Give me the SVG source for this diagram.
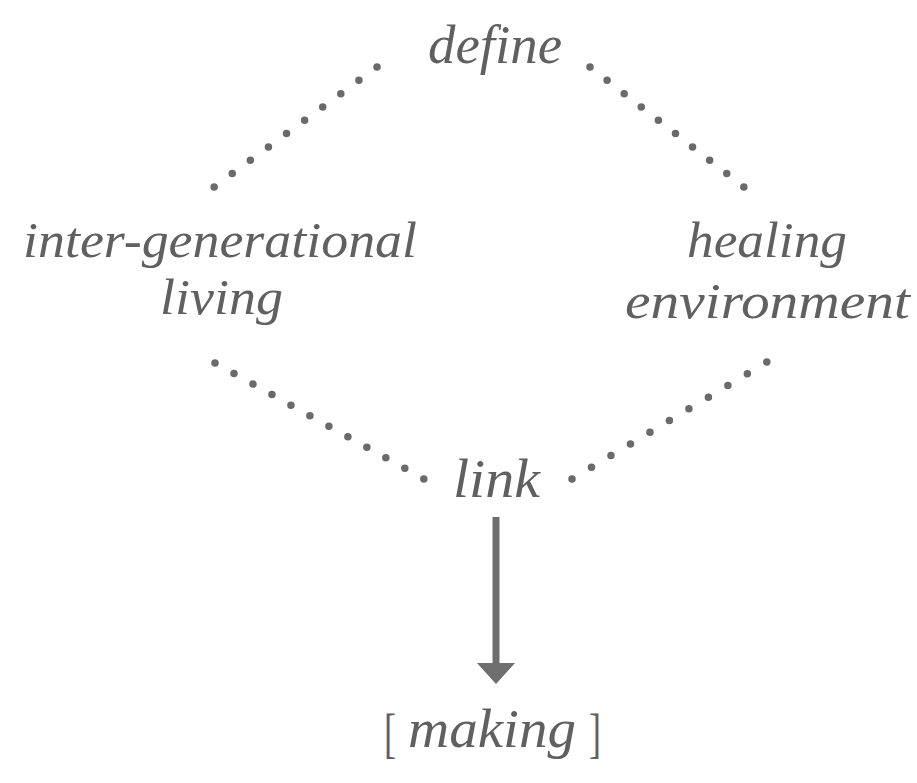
<svg xmlns="http://www.w3.org/2000/svg" width="917" height="783" viewBox="0 0 917 783">
<style>
.t{font-family:"Liberation Serif","DejaVu Serif",serif;font-style:italic;font-size:54px;fill:#606060}
.s{font-size:50px}
.u{font-family:"Liberation Serif","DejaVu Serif",serif;font-style:normal;font-size:54px;fill:#606060}
.dot{fill:none;stroke:#6a6a6a;stroke-width:7.5;stroke-linecap:round}
</style>
<rect width="917" height="783" fill="#ffffff"/>
<g id="connectors">
<path class="dot" d="M377,67 L214,187" stroke-dasharray="0 22.47"/>
<path class="dot" d="M590,67 L744,187" stroke-dasharray="0 21.67"/>
<path class="dot" d="M215,363 L424,479" stroke-dasharray="0 21.71"/>
<path class="dot" d="M572,479 L767,362" stroke-dasharray="0 22.72"/>
<g id="arrow" fill="#6e6e6e">
<rect x="492.5" y="517" width="7" height="148"/>
<polygon points="477,663 515,663 496,684"/>
</g>
</g>
<g id="define"><text class="t" x="428" y="63" textLength="134" lengthAdjust="spacingAndGlyphs">define</text></g>
<g id="intergenerational">
<text class="t s" x="23" y="257" textLength="394" lengthAdjust="spacingAndGlyphs">inter-generational</text>
<text class="t s" x="160" y="314" textLength="123" lengthAdjust="spacingAndGlyphs">living</text>
</g>
<g id="healing">
<text class="t s" x="687" y="257" textLength="160" lengthAdjust="spacingAndGlyphs">healing</text>
<text class="t s" x="625" y="318" textLength="285" lengthAdjust="spacingAndGlyphs">environment</text>
</g>
<g id="link"><text class="t" x="453" y="497" textLength="87" lengthAdjust="spacingAndGlyphs">link</text></g>
<g id="making">
<text class="u" x="384" y="752" textLength="12" lengthAdjust="spacingAndGlyphs">[</text>
<text class="t" x="408" y="747" textLength="168" lengthAdjust="spacingAndGlyphs">making</text>
<text class="u" x="589" y="752" textLength="12" lengthAdjust="spacingAndGlyphs">]</text>
</g>
</svg>
